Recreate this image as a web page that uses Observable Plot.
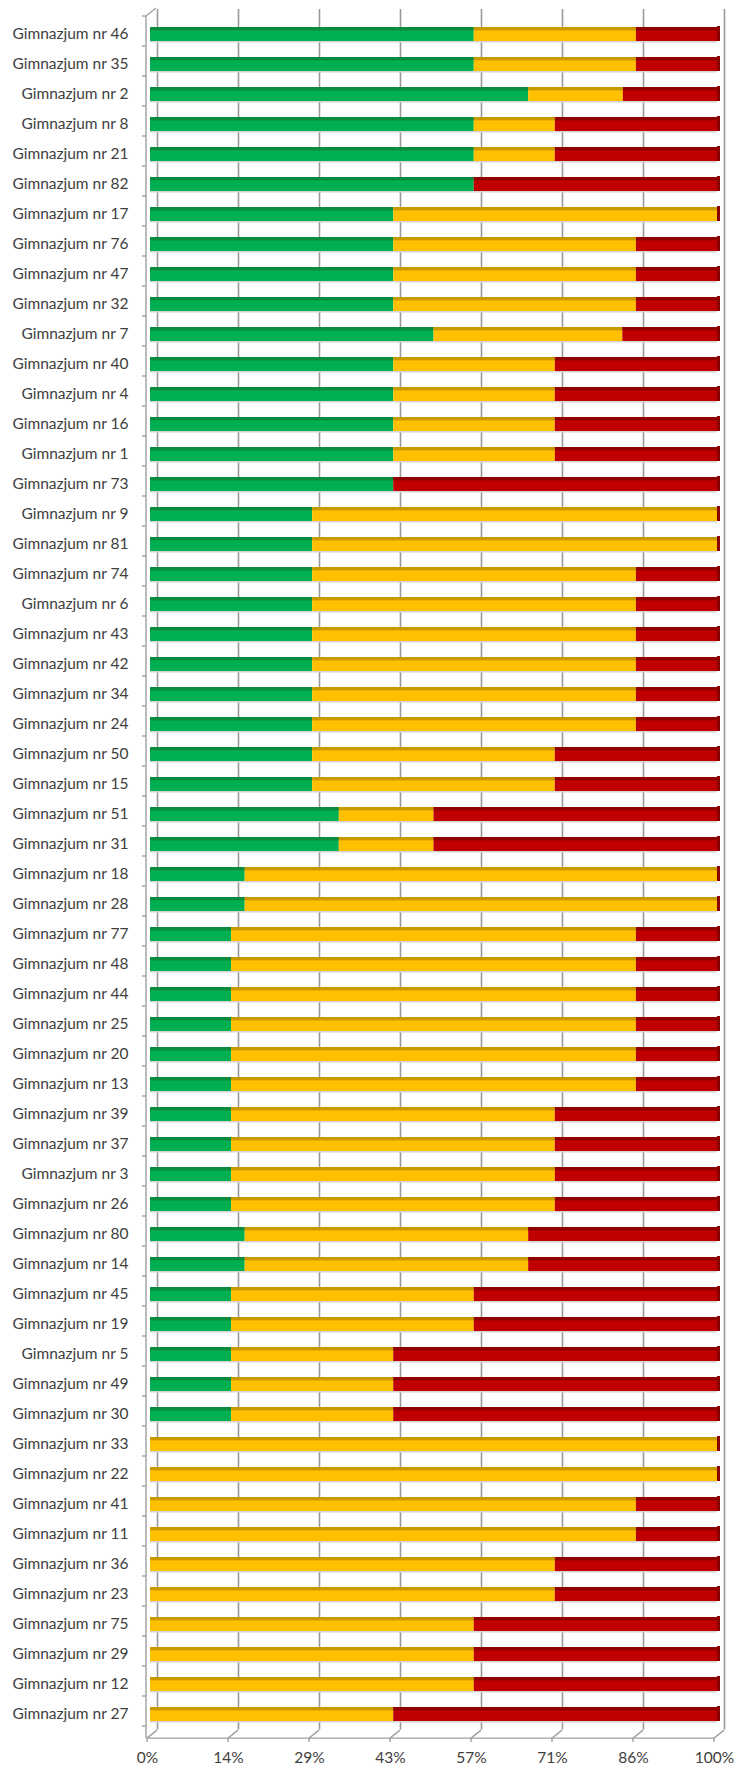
<!DOCTYPE html>
<html>
<head>
<meta charset="utf-8">
<script src="https://cdn.jsdelivr.net/npm/d3@7"></script>
<script src="https://cdn.jsdelivr.net/npm/@observablehq/plot@0.6"></script>
<style>
  html, body { margin: 0; padding: 0; background: #fff; }
  #chart svg { display: block; }
</style>
</head>
<body>
<div id="chart"></div>
<script>
// ---- data (percent of students per school) ----
const schools = [
  "Gimnazjum nr 46","Gimnazjum nr 35","Gimnazjum nr 2","Gimnazjum nr 8","Gimnazjum nr 21",
  "Gimnazjum nr 82","Gimnazjum nr 17","Gimnazjum nr 76","Gimnazjum nr 47","Gimnazjum nr 32",
  "Gimnazjum nr 7","Gimnazjum nr 40","Gimnazjum nr 4","Gimnazjum nr 16","Gimnazjum nr 1",
  "Gimnazjum nr 73","Gimnazjum nr 9","Gimnazjum nr 81","Gimnazjum nr 74","Gimnazjum nr 6",
  "Gimnazjum nr 43","Gimnazjum nr 42","Gimnazjum nr 34","Gimnazjum nr 24","Gimnazjum nr 50",
  "Gimnazjum nr 15","Gimnazjum nr 51","Gimnazjum nr 31","Gimnazjum nr 18","Gimnazjum nr 28",
  "Gimnazjum nr 77","Gimnazjum nr 48","Gimnazjum nr 44","Gimnazjum nr 25","Gimnazjum nr 20",
  "Gimnazjum nr 13","Gimnazjum nr 39","Gimnazjum nr 37","Gimnazjum nr 3","Gimnazjum nr 26",
  "Gimnazjum nr 80","Gimnazjum nr 14","Gimnazjum nr 45","Gimnazjum nr 19","Gimnazjum nr 5",
  "Gimnazjum nr 49","Gimnazjum nr 30","Gimnazjum nr 33","Gimnazjum nr 22","Gimnazjum nr 41",
  "Gimnazjum nr 11","Gimnazjum nr 36","Gimnazjum nr 23","Gimnazjum nr 75","Gimnazjum nr 29",
  "Gimnazjum nr 12","Gimnazjum nr 27"
];
const green = [
  57.1,57.1,66.7,57.1,57.1, 57.1,42.9,42.9,42.9,42.9,
  50.0,42.9,42.9,42.9,42.9, 42.9,28.6,28.6,28.6,28.6,
  28.6,28.6,28.6,28.6,28.6, 28.6,33.3,33.3,16.7,16.7,
  14.3,14.3,14.3,14.3,14.3, 14.3,14.3,14.3,14.3,14.3,
  16.7,16.7,14.3,14.3,14.3, 14.3,14.3,0,0,0,
  0,0,0,0,0, 0,0
];
const yellow = [
  28.6,28.6,16.7,14.3,14.3, 0,57.1,42.8,42.8,42.8,
  33.3,28.5,28.5,28.5,28.5, 0,71.4,71.4,57.1,57.1,
  57.1,57.1,57.1,57.1,42.8, 42.8,16.7,16.7,83.3,83.3,
  71.4,71.4,71.4,71.4,71.4, 71.4,57.1,57.1,57.1,57.1,
  50.0,50.0,42.8,42.8,28.6, 28.6,28.6,100,100,85.7,
  85.7,71.4,71.4,57.1,57.1, 57.1,42.9
];
const red = [
  14.3,14.3,16.6,28.6,28.6, 42.9,0,14.3,14.3,14.3,
  16.7,28.6,28.6,28.6,28.6, 57.1,0,0,14.3,14.3,
  14.3,14.3,14.3,14.3,28.6, 28.6,50.0,50.0,0,0,
  14.3,14.3,14.3,14.3,14.3, 14.3,28.6,28.6,28.6,28.6,
  33.3,33.3,42.9,42.9,57.1, 57.1,57.1,0,0,14.3,
  14.3,28.6,28.6,42.9,42.9, 42.9,57.1
];
const levels = ["green", "yellow", "red"];
const tickValues = [0, 100/7, 200/7, 300/7, 400/7, 500/7, 600/7, 100];
const tickLabels = ["0%","14%","29%","43%","57%","71%","86%","100%"];

// ---- long table built from the arrays ----
const series = {green, yellow, red};
const rows = [];
schools.forEach((s, i) => levels.forEach(l => rows.push({school: s, level: l, value: series[l][i]})));

const faceColor = {green: "#00b050", yellow: "#ffc000", red: "#c00000"};
const topColor = {green: "#0a8a3c", yellow: "#c99900", red: "#8f0000"};

const W = 734, H = 1769;
const mTop = 14, mBottom = 34.4, mLeft = 150, mRight = 17;

// 3D frame decoration (walls, floor) positioned from the x / y scales
function frame3d(index, scales, values, dim) {
  const x = scales.x, y = scales.y;
  const g = d3.create("svg:g").attr("fill", "none").attr("stroke", "#a0a0a0").attr("stroke-width", 1.4);
  const yF = dim.height - dim.marginBottom + 3.5;
  const yB = yF - 8;
  const xl = x(0) - 4;
  g.append("line").attr("x1", xl).attr("x2", x(100) - 3).attr("y1", yF).attr("y2", yF);
  tickValues.forEach(t => {
    const xf = x(t) - 3;
    g.append("line").attr("x1", xf).attr("y1", yF).attr("x2", x(t) + 7).attr("y2", yB);
    g.append("line").attr("x1", xf).attr("y1", yF).attr("x2", xf).attr("y2", yF + 4);
  });
  g.append("line").attr("x1", xl).attr("x2", xl).attr("y1", dim.marginTop + 2).attr("y2", yF);
  g.append("line").attr("x1", xl).attr("y1", dim.marginTop + 2).attr("x2", xl + 10).attr("y2", dim.marginTop - 6);
  const step = y.step();
  for (let k = 0; k <= schools.length; k++) {
    const b = dim.marginTop + k * step + 2;
    g.append("line").attr("x1", xl - 4).attr("x2", xl).attr("y1", b).attr("y2", b);
  }
  return g.node();
}

const chart = Plot.plot({
  width: W,
  height: H,
  marginTop: mTop,
  marginBottom: mBottom,
  marginLeft: mLeft,
  marginRight: mRight,
  style: {fontFamily: "Lato, 'Open Sans', sans-serif", background: "#fff"},
  x: {domain: [0, 100], axis: null},
  y: {domain: schools, paddingInner: 0.536, paddingOuter: 0.268, axis: null},
  marks: [
    Plot.gridX(tickValues, {stroke: "#9a9a9a", strokeOpacity: 1, strokeWidth: 1.6, dx: 7, dy: -5}),
    frame3d,
    Plot.barX(rows, Plot.stackX({order: null, x: "value", y: "school", fill: "#d4d4d4", insetTop: 13.5, insetBottom: -1.5})),
    Plot.barX(rows, Plot.stackX({order: null, x: "value", y: "school", fill: d => faceColor[d.level]})),
    Plot.barX(rows, Plot.stackX({order: null, x: "value", y: "school", fill: d => topColor[d.level], insetBottom: 10.6})),
    Plot.barX(schools, {x1: () => 100, x2: () => 100, y: d => d, fill: "#8a0000", insetRight: -3, insetTop: -1}),
    Plot.axisY({label: null, tickSize: 0, tickPadding: 22, fontSize: 15.5, fill: "#404040", textAnchor: "end"}),
    Plot.axisX(tickValues, {label: null, tickSize: 0, tickPadding: 17, fontSize: 15.5, fill: "#404040", dx: -3,
      tickFormat: (d, i) => tickLabels[i]})
  ]
});

document.getElementById("chart").appendChild(chart);
</script>
</body>
</html>
